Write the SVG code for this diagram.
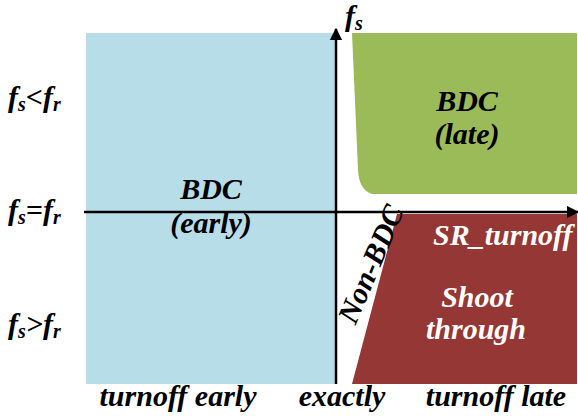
<svg xmlns="http://www.w3.org/2000/svg" width="578" height="416" viewBox="0 0 578 416" font-family="Liberation Serif, serif" font-weight="bold" font-style="italic" font-size="30">
  <style>
    .mid { text-anchor: middle; }
    .wht { fill: #fff; }
    .sub { font-size: 20px; }
    .axis { stroke: #000; stroke-width: 2.5; fill: none; }
  </style>
  <defs>
    <marker id="arrow" viewBox="0 0 10 10" refX="9" refY="5" markerWidth="5" markerHeight="5" orient="auto" markerUnits="strokeWidth">
      <path d="M0,0 L10,5 L0,10 Z" fill="#000"/>
    </marker>
  </defs>

  <!-- regions -->
  <g id="region-early">
    <rect x="86" y="33" width="249" height="351" fill="#b7dde8"/>
    <text class="mid" x="211" y="199">BDC</text>
    <text class="mid" x="211" y="233">(early)</text>
  </g>
  <g id="region-late">
    <path d="M352,33 L577,33 L577,194 L372,194 Q359,190 358,170 Z" fill="#9bbb59"/>
    <text class="mid" x="467" y="111">BDC</text>
    <text class="mid" x="467" y="144">(late)</text>
  </g>
  <g id="region-shoot">
    <path d="M397,214 L577,214 L577,384 L352,384 Z" fill="#953735"/>
    <text class="wht" x="433" y="245">SR_turnoff</text>
    <text class="mid wht" x="477" y="307">Shoot</text>
    <text class="mid wht" x="476" y="339">through</text>
  </g>
  <g id="region-nonbdc">
    <text class="mid" transform="translate(380,268) rotate(-67)">Non-BDC</text>
  </g>

  <!-- axes -->
  <g id="connectors">
    <line class="axis" x1="84" y1="212" x2="578" y2="212" marker-end="url(#arrow)"/>
    <line class="axis" x1="336" y1="384" x2="336" y2="29" marker-end="url(#arrow)"/>
  </g>

  <!-- axis labels -->
  <g id="labels">
    <text x="345" y="26">f<tspan class="sub" dy="4">s</tspan></text>
    <text x="8" y="107">f<tspan class="sub" dy="4">s</tspan><tspan dy="-4">&lt;f</tspan><tspan class="sub" dy="4">r</tspan></text>
    <text x="8" y="220">f<tspan class="sub" dy="4">s</tspan><tspan dy="-4">=f</tspan><tspan class="sub" dy="4">r</tspan></text>
    <text x="8" y="334">f<tspan class="sub" dy="4">s</tspan><tspan dy="-4">&gt;f</tspan><tspan class="sub" dy="4">r</tspan></text>
    <text class="mid" x="178" y="406">turnoff early</text>
    <text class="mid" x="342" y="406">exactly</text>
    <text class="mid" x="496" y="406">turnoff late</text>
  </g>
</svg>
